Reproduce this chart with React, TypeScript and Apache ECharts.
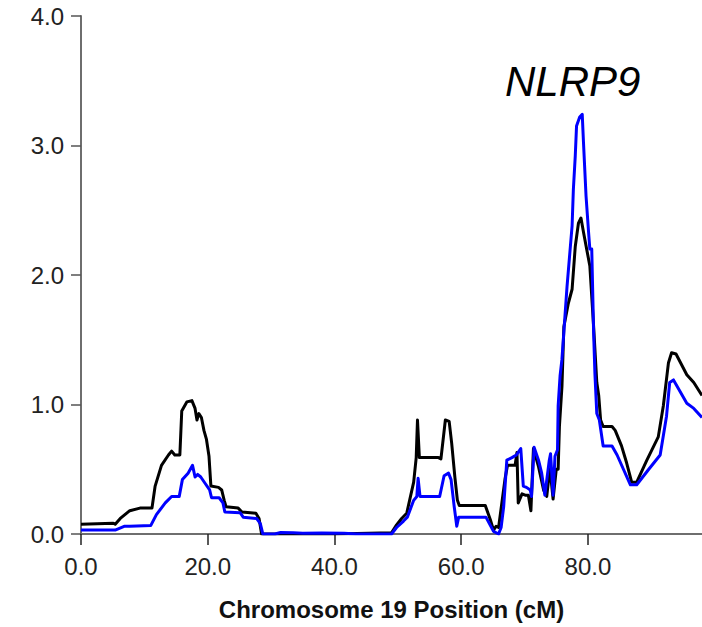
import React, { useEffect, useRef } from "react";
import * as echarts from "echarts";

// Chromosome 19 LOD profiles (position in cM, LOD score)
const blackPos = [
  0, 5.1, 5.4, 6.2, 7.7, 9.3, 11.2, 11.7, 12.7, 13.8, 14.3, 14.8, 15.6, 15.9, 16.7, 17.5, 18.0, 18.3, 18.6, 19.0,
  19.4, 19.8, 20.2, 20.5, 21.7, 22.2, 22.6, 22.9, 24.8, 25.4, 27.6, 28.1, 28.5, 40.0, 49.0, 49.8, 50.6, 51.4, 52.5,
  52.9, 53.1, 53.4, 56.4, 56.8, 57.5, 58.1, 58.5, 59.0, 59.4, 59.7, 63.8, 64.6, 65.1, 65.5, 65.9, 66.9, 67.3, 68.5,
  68.8, 69.0, 69.6, 70.1, 70.6, 71.0, 71.4, 72.2, 73.0, 73.5, 74.0, 74.5, 75.0, 75.3, 75.5, 75.9, 76.2, 76.9, 77.5,
  78.0, 78.5, 78.9, 79.3, 79.8, 80.3, 80.9, 81.4, 81.7, 82.0, 82.4, 83.8, 84.3, 85.3, 86.1, 86.9, 87.7, 89.3, 91.1,
  91.9, 92.7, 93.2, 93.9, 95.6, 96.7, 98.0,
];
const blackLod = [
  0.075, 0.083, 0.075, 0.12, 0.18, 0.2, 0.2, 0.37, 0.53, 0.61, 0.64, 0.61, 0.61, 0.95, 1.02, 1.03, 0.97, 0.88, 0.93, 0.9,
  0.8, 0.73, 0.6, 0.37, 0.36, 0.34, 0.26, 0.21, 0.2, 0.17, 0.16, 0.12, 0.0, 0.0, 0.01, 0.07, 0.12, 0.16, 0.4,
  0.59, 0.88, 0.59, 0.59, 0.58, 0.88, 0.87, 0.7, 0.44, 0.26, 0.22, 0.22, 0.11, 0.03, 0.06, 0.05, 0.42, 0.53, 0.53,
  0.63, 0.24, 0.31, 0.3, 0.3, 0.18, 0.66, 0.52, 0.34, 0.29, 0.51, 0.27, 0.5, 0.5, 0.83, 1.14, 1.6, 1.78, 1.89,
  2.22, 2.4, 2.44, 2.33, 2.2, 2.07, 1.6, 1.17, 1.07, 0.88, 0.83, 0.83, 0.8, 0.68, 0.55, 0.4, 0.4, 0.57, 0.75,
  0.99, 1.32, 1.4, 1.39, 1.23, 1.17, 1.07,
];

const bluePos = [
  0, 5.4, 6.9, 7.7, 11.0, 11.9, 13.3, 14.3, 15.5, 16.0, 16.9, 17.6, 18.0, 18.4, 18.9, 19.6, 20.3, 20.6, 21.8, 22.4,
  22.7, 25.1, 25.6, 27.7, 28.3, 28.7, 30.6, 31.5, 33.5, 35.0, 38.0, 41.5, 43.5, 49.0, 49.8, 50.9, 51.5, 52.5, 53.0,
  53.2, 53.5, 56.6, 57.3, 58.0, 58.4, 58.9, 59.3, 59.6, 63.9, 65.1, 65.9, 66.3, 66.7, 67.2, 68.0, 68.7, 69.4, 69.8,
  70.3, 70.9, 71.1, 71.5, 72.2, 72.7, 73.2, 73.9, 74.1, 74.5, 74.8, 75.2, 75.3, 75.6, 75.9, 76.7, 77.5, 77.7, 78.0,
  78.2, 78.7, 79.1, 79.3, 79.7, 80.1, 80.3, 80.6, 80.9, 81.1, 81.4, 81.8, 82.4, 83.8, 84.6, 85.6, 86.7, 87.7, 89.6,
  91.4, 92.4, 92.9, 93.5, 95.6, 96.7, 98.0,
];
const blueLod = [
  0.03, 0.03, 0.06, 0.06, 0.065, 0.15, 0.24, 0.29, 0.29, 0.42, 0.47, 0.53, 0.44, 0.46, 0.44, 0.39, 0.34, 0.28, 0.28, 0.24,
  0.17, 0.165, 0.13, 0.12, 0.08, 0.0, 0.0, 0.012, 0.01, 0.005, 0.008, 0.006, 0.0, 0.0, 0.05, 0.1, 0.13, 0.26, 0.29,
  0.43, 0.29, 0.29, 0.45, 0.47, 0.42, 0.21, 0.06, 0.13, 0.13, 0.02, 0.0, 0.05, 0.21, 0.57, 0.59, 0.61, 0.66, 0.37,
  0.36, 0.34, 0.29, 0.67, 0.57, 0.47, 0.3, 0.57, 0.62, 0.3, 0.6, 0.65, 0.99, 1.22, 1.35, 1.91, 2.38, 2.66, 2.92,
  3.15, 3.22, 3.24, 3.02, 2.61, 2.33, 2.2, 2.2, 1.55, 1.24, 0.93, 0.88, 0.68, 0.68, 0.61, 0.5, 0.38, 0.38, 0.5,
  0.61, 0.91, 1.17, 1.19, 1.01, 0.97, 0.9,
];

const xTicks = [0, 20, 40, 60, 80];
const yTicks = [0, 1, 2, 3, 4];
const xAxisTitle = "Chromosome 19 Position (cM)";
const geneLabel = "NLRP9";

const zip = (xs: number[], ys: number[]) => xs.map((x, i) => [x, ys[i]]);

export default function App() {
  const ref = useRef<HTMLDivElement>(null);
  useEffect(() => {
    if (!ref.current) return;
    const chart = echarts.init(ref.current, null, { renderer: "svg" });
    const font = "'Liberation Sans', Arial, sans-serif";
    chart.setOption({
      animation: false,
      backgroundColor: "#ffffff",
      grid: { left: 81, right: 0, top: 16, bottom: 93, containLabel: false },
      xAxis: [
        {
          type: "value",
          min: 0,
          max: 98,
          interval: 20,
          name: xAxisTitle,
          nameLocation: "middle",
          nameGap: 63,
          nameTextStyle: { fontFamily: font, fontSize: 24, fontWeight: "bold", color: "#111" },
          axisLine: { show: true, onZero: false, lineStyle: { color: "#000", width: 1.5 } },
          axisTick: { show: true, inside: false, length: 11, customValues: xTicks, lineStyle: { color: "#222", width: 1.5 } },
          axisLabel: {
            customValues: xTicks,
            margin: 20,
            fontFamily: font,
            fontSize: 24,
            color: "#222",
            formatter: (v: number) => v.toFixed(1),
          },
          splitLine: { show: false },
        },
        {
          type: "value",
          position: "top",
          min: 0,
          max: 98,
          axisLine: { show: true, lineStyle: { color: "#6e6e6e", width: 2 } },
          axisTick: { show: false },
          axisLabel: { show: false },
          splitLine: { show: false },
        },
      ],
      yAxis: {
        type: "value",
        min: 0,
        max: 4,
        interval: 1,
        axisLine: { show: true, lineStyle: { color: "#6e6e6e", width: 2 } },
        axisTick: { show: true, inside: false, length: 10, customValues: yTicks, lineStyle: { color: "#555", width: 1.5 } },
        axisLabel: {
          margin: 17,
          fontFamily: font,
          fontSize: 24,
          color: "#222",
          formatter: (v: number) => v.toFixed(1),
        },
        splitLine: { show: false },
      },
      graphic: [
        {
          type: "text",
          left: 505,
          top: 60,
          style: {
            text: geneLabel,
            fontFamily: font,
            fontSize: 42,
            fontStyle: "italic",
            fill: "#000",
          },
        },
      ],
      series: [
        {
          type: "line",
          data: zip(blackPos, blackLod),
          showSymbol: false,
          symbol: "none",
          lineStyle: { color: "#000000", width: 3, join: "round" },
          z: 3,
        },
        {
          type: "line",
          data: zip(bluePos, blueLod),
          showSymbol: false,
          symbol: "none",
          lineStyle: { color: "#0000ff", width: 3, join: "round" },
          z: 4,
        },
      ],
    });
    return () => chart.dispose();
  }, []);
  return (
    <div
      ref={ref}
      style={{ position: "fixed", left: 0, top: 0, width: 702, height: 627, background: "#fff" }}
    />
  );
}
